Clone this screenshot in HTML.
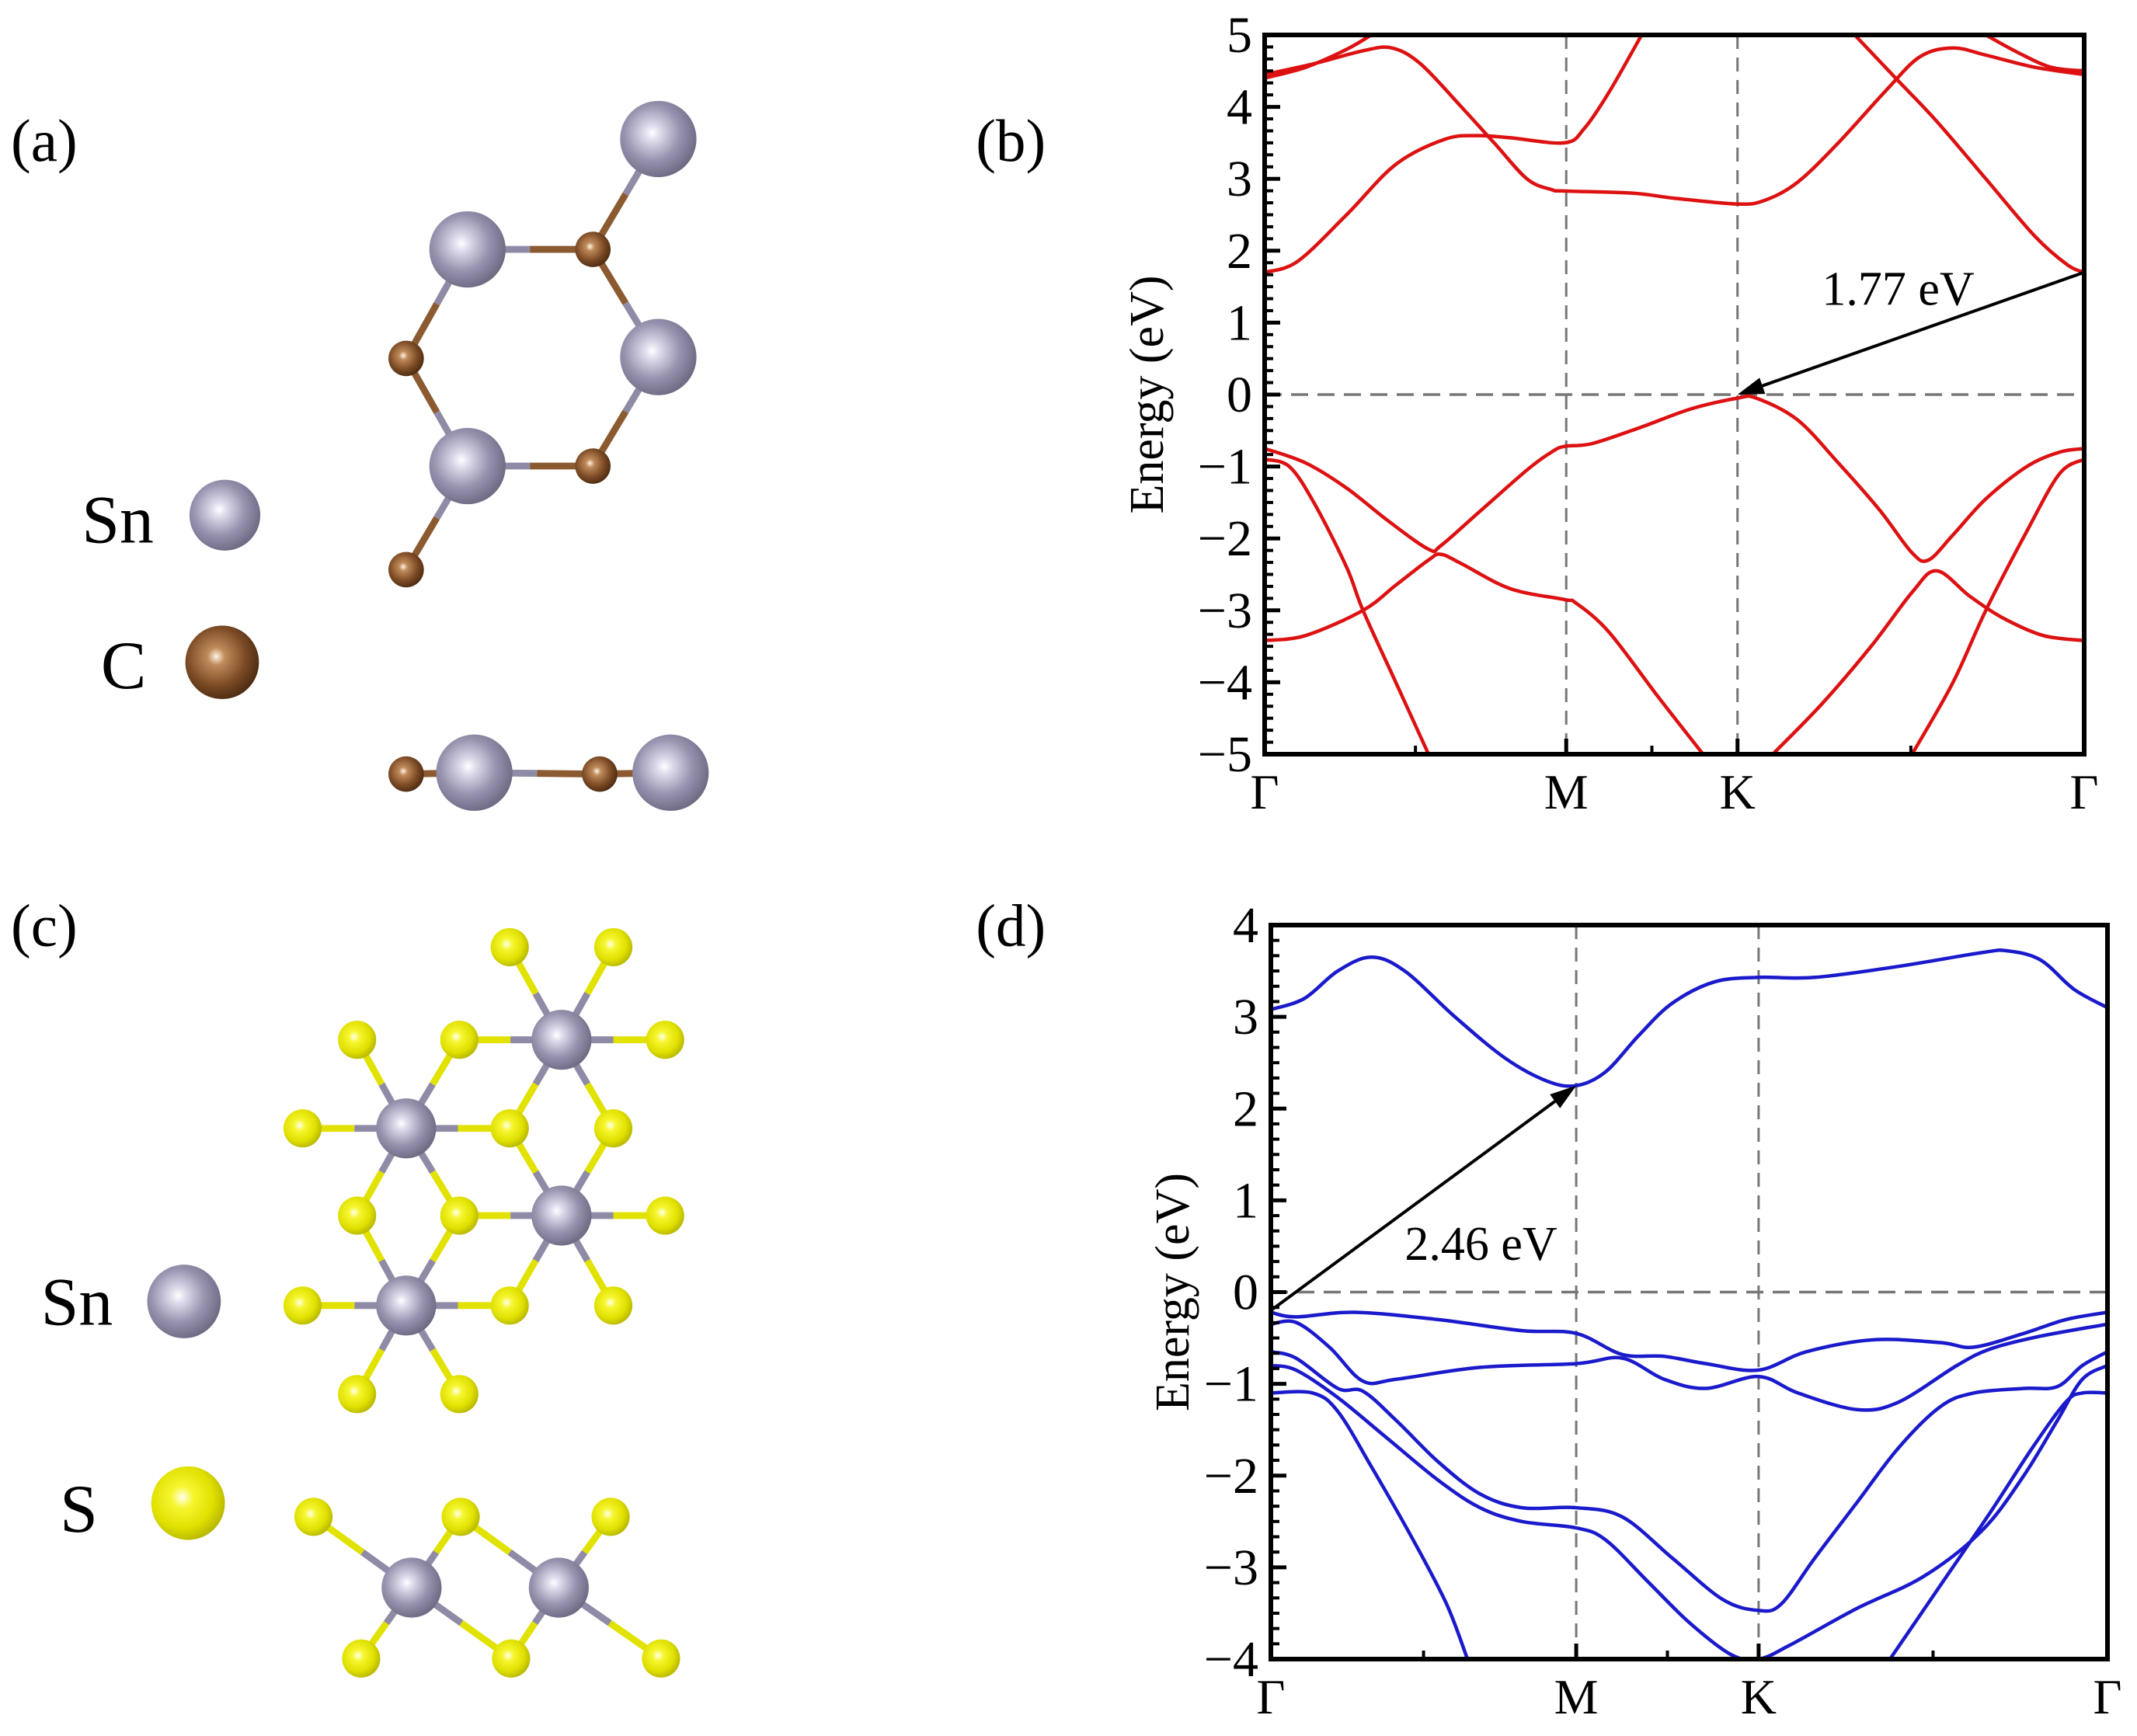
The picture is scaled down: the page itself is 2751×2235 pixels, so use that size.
<!DOCTYPE html>
<html><head><meta charset="utf-8"><style>
html,body{margin:0;padding:0;background:#fff;}
svg{display:block;font-family:"Liberation Serif",serif;}
</style></head><body>
<svg id="fig" width="2751" height="2235" viewBox="0 0 2751 2235" xmlns="http://www.w3.org/2000/svg">
<defs>
<radialGradient id="gSn" cx="0.42" cy="0.42" r="0.6"><stop offset="0" stop-color="#ffffff"/><stop offset="0.18" stop-color="#dcdaea"/><stop offset="0.6" stop-color="#9894b0"/><stop offset="1" stop-color="#6e6a84"/></radialGradient>
<radialGradient id="gC" cx="0.42" cy="0.42" r="0.6"><stop offset="0" stop-color="#fff4e6"/><stop offset="0.2" stop-color="#c08a5a"/><stop offset="0.65" stop-color="#7e4c26"/><stop offset="1" stop-color="#4e2c12"/></radialGradient>
<radialGradient id="gS" cx="0.42" cy="0.42" r="0.6"><stop offset="0" stop-color="#ffffee"/><stop offset="0.25" stop-color="#f6f630"/><stop offset="0.7" stop-color="#e0e000"/><stop offset="1" stop-color="#b8b800"/></radialGradient>
</defs>
<g id="mol" transform="scale(1.7545)"></g>
<g id="chartB"></g>
<g id="chartD"></g>
</svg>
<script>
// ---------- Panel (b) data ----------
const bKLabels = ["Γ","M","K","Γ"];
const bKPos = [0, 0.368, 0.577, 1];
const bYTicks = [-5,-4,-3,-2,-1,0,1,2,3,4,5];
const bBands = [
 [[0,1.7],[0.04,1.85],[0.1,2.5],[0.16,3.2],[0.22,3.55],[0.26,3.6],[0.3,3.57],[0.366,3.5],[0.39,3.7],[0.42,4.2],[0.46,5.0]],
 [[0,4.45],[0.06,4.6],[0.12,4.78],[0.155,4.82],[0.19,4.6],[0.24,4.0],[0.28,3.5],[0.32,3.0],[0.35,2.85],[0.366,2.83],[0.45,2.8],[0.5,2.73],[0.577,2.65],[0.61,2.7],[0.65,2.95],[0.7,3.5],[0.76,4.25],[0.8,4.7],[0.84,4.82],[0.88,4.72],[0.94,4.55],[1,4.45]],
 [[0.72,5.0],[0.77,4.4],[0.82,3.8],[0.88,3.0],[0.94,2.2],[0.98,1.8],[1,1.7]],
 [[0,4.4],[0.05,4.55],[0.1,4.8],[0.13,5.0]],
 [[0.88,5.0],[0.92,4.75],[0.96,4.55],[1,4.5]],
 [[0,-0.75],[0.05,-0.95],[0.1,-1.3],[0.15,-1.75],[0.2,-2.15],[0.215,-2.1],[0.26,-1.65],[0.32,-1.05],[0.35,-0.8],[0.366,-0.72],[0.4,-0.68],[0.46,-0.45],[0.52,-0.2],[0.577,-0.05],[0.6,-0.05],[0.65,-0.35],[0.7,-0.95],[0.75,-1.6],[0.79,-2.2],[0.81,-2.3],[0.84,-1.95],[0.88,-1.45],[0.93,-1.0],[0.97,-0.8],[1,-0.75]],
 [[0,-3.42],[0.05,-3.35],[0.12,-3.0],[0.16,-2.65],[0.2,-2.3],[0.215,-2.22],[0.24,-2.35],[0.3,-2.7],[0.366,-2.85],[0.38,-2.9],[0.42,-3.3],[0.48,-4.2],[0.535,-5.0]],
 [[0.62,-5.0],[0.68,-4.3],[0.74,-3.5],[0.79,-2.75],[0.82,-2.45],[0.86,-2.8],[0.9,-3.1],[0.95,-3.35],[1,-3.42]],
 [[0,-0.9],[0.03,-1.0],[0.06,-1.5],[0.1,-2.4],[0.12,-3.0],[0.16,-4.0],[0.2,-5.0]],
 [[0.79,-5.0],[0.84,-4.0],[0.88,-3.0],[0.93,-1.9],[0.97,-1.1],[1,-0.9]]
];
const bArrow = [[1,1.7],[0.577,0]];
const bGapLabel = "1.77 eV";
const bGapPos = [0.68, 1.25];

// ---------- Panel (d) data ----------
const dKLabels = ["Γ","M","K","Γ"];
const dKPos = [0, 0.365, 0.583, 1];
const dYTicks = [-4,-3,-2,-1,0,1,2,3,4];
const dBands = [
 [[0,3.08],[0.04,3.2],[0.08,3.5],[0.12,3.65],[0.16,3.5],[0.22,3.0],[0.28,2.55],[0.33,2.3],[0.365,2.25],[0.4,2.4],[0.44,2.8],[0.48,3.15],[0.53,3.38],[0.583,3.43],[0.65,3.43],[0.75,3.55],[0.85,3.7],[0.88,3.72],[0.92,3.62],[0.96,3.3],[1,3.1]],
 [[0,-0.22],[0.03,-0.27],[0.1,-0.22],[0.2,-0.3],[0.3,-0.42],[0.365,-0.45],[0.42,-0.68],[0.47,-0.7],[0.52,-0.78],[0.583,-0.85],[0.64,-0.65],[0.72,-0.52],[0.8,-0.55],[0.84,-0.6],[0.9,-0.45],[0.95,-0.3],[1,-0.22]],
 [[0,-0.35],[0.03,-0.33],[0.07,-0.6],[0.11,-0.97],[0.15,-0.95],[0.25,-0.82],[0.365,-0.78],[0.42,-0.72],[0.47,-0.95],[0.52,-1.05],[0.583,-0.92],[0.63,-1.1],[0.7,-1.28],[0.75,-1.2],[0.82,-0.8],[0.86,-0.62],[0.92,-0.48],[1,-0.35]],
 [[0,-0.65],[0.03,-0.72],[0.08,-1.05],[0.11,-1.08],[0.15,-1.4],[0.2,-1.85],[0.25,-2.2],[0.3,-2.35],[0.365,-2.35],[0.42,-2.45],[0.48,-2.9],[0.54,-3.35],[0.583,-3.47],[0.61,-3.4],[0.65,-2.9],[0.7,-2.3],[0.75,-1.7],[0.8,-1.25],[0.84,-1.1],[0.9,-1.05],[0.94,-1.03],[0.97,-0.8],[1,-0.65]],
 [[0,-0.8],[0.03,-0.85],[0.08,-1.15],[0.14,-1.6],[0.2,-2.05],[0.25,-2.35],[0.3,-2.5],[0.365,-2.57],[0.4,-2.7],[0.45,-3.15],[0.5,-3.6],[0.55,-3.95],[0.583,-4.0],[0.62,-3.85],[0.7,-3.45],[0.78,-3.1],[0.85,-2.6],[0.9,-2.0],[0.94,-1.4],[0.97,-0.95],[1,-0.8]],
 [[0,-1.1],[0.05,-1.1],[0.08,-1.3],[0.12,-1.9],[0.17,-2.7],[0.21,-3.4],[0.235,-4.0]],
 [[0.74,-4.0],[0.8,-3.2],[0.86,-2.4],[0.91,-1.7],[0.95,-1.2],[0.97,-1.1],[1,-1.1]]
];
const dArrow = [[0,-0.2],[0.365,2.25]];
const dGapLabel = "2.46 eV";
const dGapPos = [0.16, 0.35];

const NS = "http://www.w3.org/2000/svg";
function mk(tag, attrs, parent){ const e=document.createElementNS(NS,tag); for(const k in attrs) e.setAttribute(k,attrs[k]); parent.appendChild(e); return e; }

function smoothPath(pts){
  let d="M"+pts[0][0].toFixed(1)+","+pts[0][1].toFixed(1);
  for(let i=0;i<pts.length-1;i++){
    const p0=pts[Math.max(0,i-1)],p1=pts[i],p2=pts[i+1],p3=pts[Math.min(pts.length-1,i+2)];
    const c1=[p1[0]+(p2[0]-p0[0])/6,p1[1]+(p2[1]-p0[1])/6];
    const c2=[p2[0]-(p3[0]-p1[0])/6,p2[1]-(p3[1]-p1[1])/6];
    d+=" C"+c1[0].toFixed(1)+","+c1[1].toFixed(1)+" "+c2[0].toFixed(1)+","+c2[1].toFixed(1)+" "+p2[0].toFixed(1)+","+p2[1].toFixed(1);
  }
  return d;
}

function drawChart(g, cfg){
  const {x0,x1,y0,y1,ymin,ymax,kPos,kLabels,yTicks,bands,color,arrow,gapLabel,gapPos,titleX,yTitle,clipId}=cfg;
  const X=k=>x0+k*(x1-x0);
  const Y=e=>y1-(e-ymin)/(ymax-ymin)*(y1-y0);
  const defs=mk("defs",{},g);
  const cp=mk("clipPath",{id:clipId},defs);
  mk("rect",{x:x0,y:y0,width:x1-x0,height:y1-y0},cp);
  for(let i=1;i<kPos.length-1;i++){
    const l=mk("line",{x1:X(kPos[i]),x2:X(kPos[i]),y1:y0,y2:y1,stroke:"#777","stroke-width":3,"stroke-dasharray":"18,11"},g);
    
    
  }
  const fl=mk("line",{x1:x0,x2:x1,y1:Y(0),y2:Y(0),stroke:"#777","stroke-width":3.5,"stroke-dasharray":"22,12"},g);
  
  
  const bg=mk("g",{"clip-path":"url(#"+clipId+")"},g);
  bands.forEach((b)=>{
    const p=mk("path",{d:smoothPath(b.map(q=>[X(q[0]),Y(q[1])])),fill:"none",stroke:color,"stroke-width":4.5},bg);
    
    
  });
  const ax1=X(arrow[0][0]),ay1=Y(arrow[0][1]),ax2=X(arrow[1][0]),ay2=Y(arrow[1][1]);
  const ang=Math.atan2(ay2-ay1,ax2-ax1),L=34,W=11;
  const bx=ax2-L*Math.cos(ang),by=ay2-L*Math.sin(ang);
  const al=mk("line",{x1:ax1,y1:ay1,x2:bx,y2:by,stroke:"#000","stroke-width":4},g);
  
  
  const ah=mk("polygon",{points:[ax2,ay2,bx-W*Math.sin(ang),by+W*Math.cos(ang),bx+W*Math.sin(ang),by-W*Math.cos(ang)].join(","),fill:"#000"},g);
  
  
  const gt=mk("text",{x:X(gapPos[0]),y:Y(gapPos[1]),"font-size":62,fill:"#000"},g);
  gt.textContent=gapLabel;
  
  
  const fr=mk("rect",{x:x0,y:y0,width:x1-x0,height:y1-y0,fill:"none",stroke:"#000","stroke-width":6},g);
  
  
  const step=yTicks[1]-yTicks[0];
  yTicks.forEach((t,i)=>{
    const tk=mk("line",{x1:x0,x2:x0+20,y1:Y(t),y2:Y(t),stroke:"#000","stroke-width":5},g);
    
    
    const tl=mk("text",{x:x0-16,y:Y(t)+22,"font-size":66,"text-anchor":"end",fill:"#000"},g);
    tl.textContent=(t<0?"\u2212":"")+Math.abs(t);
    
    
    if(i<yTicks.length-1){
      for(let m=1;m<6;m++){
        const yy=Y(t+step*m/6);
        const mt=mk("line",{x1:x0,x2:x0+11,y1:yy,y2:yy,stroke:"#000","stroke-width":4},g);
        
        
      }
    }
  });
  kPos.forEach((k,i)=>{
    if(i>0&&i<kPos.length-1){
      const tk=mk("line",{x1:X(k),x2:X(k),y1:y1,y2:y1-20,stroke:"#000","stroke-width":5},g);
      
      
    }
    if(i<kPos.length-1){
      const mx=X((k+kPos[i+1])/2);
      const mt=mk("line",{x1:mx,x2:mx,y1:y1,y2:y1-11,stroke:"#000","stroke-width":4},g);
      
      
    }
    const xl=mk("text",{x:X(k),y:y1+70,"font-size":64,"text-anchor":"middle",fill:"#000"},g);
    xl.textContent=kLabels[i];
    
    
  });
  const yt=mk("text",{x:titleX,y:(y0+y1)/2,"font-size":62,"text-anchor":"middle",fill:"#000",transform:"rotate(-90 "+titleX+" "+((y0+y1)/2)+")"},g);
  yt.textContent=yTitle;
  
  
}

drawChart(document.getElementById("chartB"),{x0:1628,x1:2683,y0:45,y1:971,ymin:-5,ymax:5,kPos:bKPos,kLabels:bKLabels,yTicks:bYTicks,bands:bBands,color:"#dd1111",arrow:bArrow,gapLabel:bGapLabel,gapPos:bGapPos,titleX:1497,yTitle:"Energy (eV)",clipId:"clipB"});
drawChart(document.getElementById("chartD"),{x0:1636,x1:2713,y0:1191,y1:2136,ymin:-4,ymax:4,kPos:dKPos,kLabels:dKLabels,yTicks:dYTicks,bands:dBands,color:"#1a1acc",arrow:dArrow,gapLabel:dGapLabel,gapPos:dGapPos,titleX:1530,yTitle:"Energy (eV)",clipId:"clipD"});

const mol=document.getElementById("mol");
const colBond={Sn:"#8f8ba6",C:"#8b5a30",S:"#e2e200"};
const grad={Sn:"url(#gSn)",C:"url(#gC)",S:"url(#gS)"};
function bond(a,b,w){
  const mx=(a[0]+b[0])/2,my=(a[1]+b[1])/2;
  const l1=mk("line",{x1:a[0],y1:a[1],x2:mx,y2:my,stroke:colBond[a[2]],"stroke-width":w},mol);
  
  
  const l2=mk("line",{x1:mx,y1:my,x2:b[0],y2:b[1],stroke:colBond[b[2]],"stroke-width":w},mol);
  
  
}
function atom(a,r){
  const c=mk("circle",{cx:a[0],cy:a[1],r:r,fill:grad[a[2]]},mol);
  
  
}
function label(t,x,y,fs,name){
  const e=mk("text",{x:x,y:y,"font-size":fs,fill:"#000"},mol);
  e.textContent=t;
  
  
}
const A={s1:[483,102,"Sn"],s2:[343,183,"Sn"],s3:[483,262,"Sn"],s4:[343,342,"Sn"],c1:[435,183,"C"],c2:[298,263,"C"],c3:[435,342,"C"],c4:[298,418,"C"]};
[["s1","c1"],["s2","c1"],["c1","s3"],["s2","c2"],["c2","s4"],["s3","c3"],["s4","c3"],["s4","c4"]].forEach(p=>bond(A[p[0]],A[p[1]],5));
["c1","c2","c3","c4"].forEach(k=>atom(A[k],13));
["s1","s2","s3","s4"].forEach(k=>atom(A[k],28));
const AS=[[298,568,"C"],[348,567,"Sn"],[440,568,"C"],[492,567,"Sn"]];
bond(AS[0],AS[1],5);bond(AS[1],AS[2],5);bond(AS[2],AS[3],5);
atom(AS[0],13);atom(AS[2],13);atom(AS[1],28);atom(AS[3],28);
atom([165,378,"Sn"],26);atom([163,486,"C"],27);
label("(a)",8,118,44,"panel-label-a");
label("Sn",60,398,50,"legend-sn-label");
label("C",74,505,50,"legend-c-label");
label("(b)",716,118,44,"panel-label-b");
const SnC=[[298,828,"Sn"],[412,763,"Sn"],[412,892,"Sn"],[298,958,"Sn"]];
const SC=[[374,695],[450,695],[262,763],[337,763],[488,763],[222,828],[374,828],[450,828],[262,892],[337,892],[488,892],[222,958],[374,958],[450,958],[262,1023],[337,1023]].map(p=>[p[0],p[1],"S"]);
SnC.forEach(sn=>SC.forEach(s=>{ if(Math.hypot(sn[0]-s[0],sn[1]-s[1])<90) bond(sn,s,5); }));
SC.forEach(s=>atom(s,14));
SnC.forEach(s=>atom(s,22));
const CS=[[230,1113,"S"],[338,1113,"S"],[448,1113,"S"],[302,1165,"Sn"],[410,1165,"Sn"],[265,1217,"S"],[375,1217,"S"],[485,1217,"S"]];
[[0,3],[3,1],[3,5],[3,6],[1,4],[4,2],[4,6],[4,7]].forEach(p=>bond(CS[p[0]],CS[p[1]],5));
[0,1,2,5,6,7].forEach(i=>atom(CS[i],14));
atom(CS[3],22);atom(CS[4],22);
atom([135,955,"Sn"],27);atom([138,1103,"S"],27);
label("(c)",8,694,44,"panel-label-c");
label("Sn",30,972,50,"legend-sn-label-c");
label("S",44,1124,50,"legend-s-label");
label("(d)",716,694,44,"panel-label-d");
</script>
</body></html>
